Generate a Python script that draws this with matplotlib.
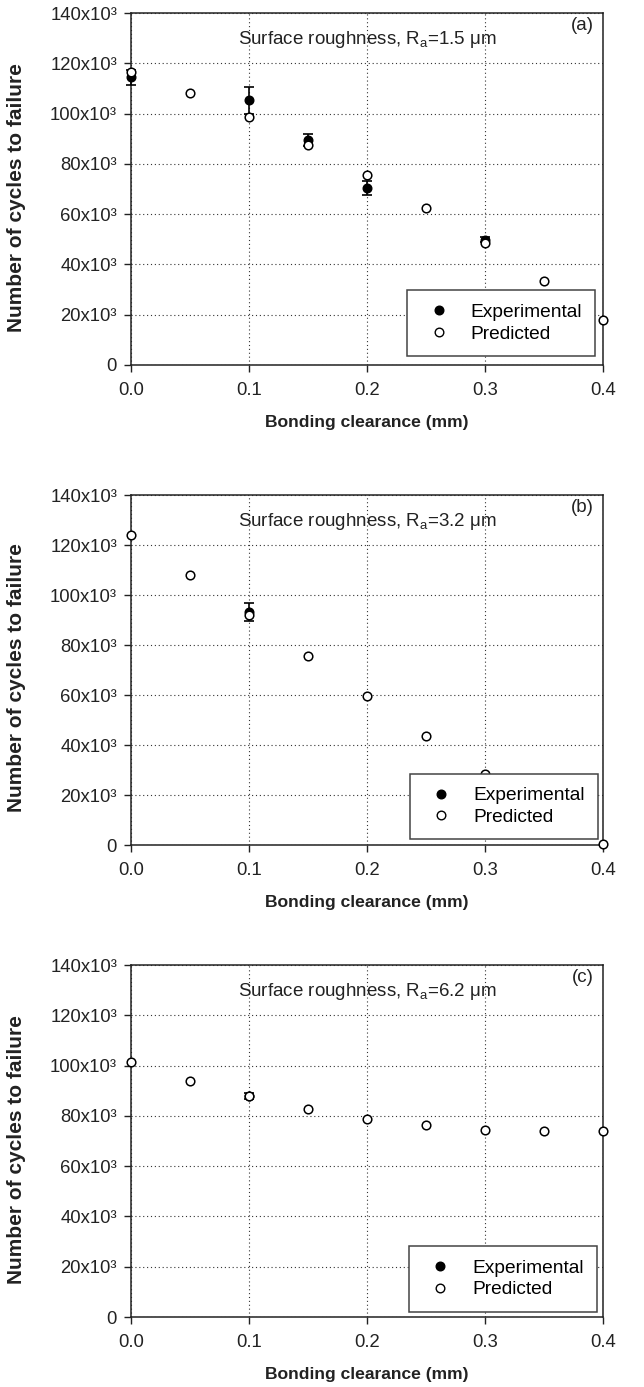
import matplotlib
matplotlib.use("Agg")
import matplotlib.pyplot as plt
from matplotlib.lines import Line2D

plt.rcParams['font.family'] = ['Liberation Sans', 'DejaVu Sans']
plt.rcParams['mathtext.fontset'] = 'custom'
plt.rcParams['mathtext.rm'] = 'Liberation Sans'
plt.rcParams['mathtext.it'] = 'Liberation Sans:italic'
plt.rcParams['mathtext.bf'] = 'Liberation Sans:bold'

# ---------------- data (cycles to failure, thousands) ----------------
clearance_pred = [0.0, 0.05, 0.10, 0.15, 0.20, 0.25, 0.30, 0.35, 0.40]

pred_a = [116.5, 108.1, 98.6, 87.6, 75.6, 62.6, 48.4, 33.4, 17.9]
exp_x_a = [0.0, 0.10, 0.15, 0.20, 0.30]
exp_a = [114.5, 105.2, 89.6, 70.3, 49.8]
err_a = [3.0, 5.2, 2.4, 2.7, 1.0]

pred_b = [124.1, 108.0, 92.0, 75.7, 59.5, 43.7, 28.6, 14.5, 0.5]
exp_x_b = [0.10]
exp_b = [93.2]
err_b = [3.6]

pred_c = [101.6, 94.0, 87.9, 82.8, 78.9, 76.3, 74.5, 73.9, 74.0]
exp_x_c = [0.10]
exp_c = [87.9]
err_c = [1.2]

roughness = ['1.5', '3.2', '6.2']
panel_tags = ['(a)', '(b)', '(c)']
yticks_k = [0, 20, 40, 60, 80, 100, 120, 140]
ytick_labels = ['0'] + [f'{v}x10³' for v in yticks_k[1:]]
xticks = [0.0, 0.1, 0.2, 0.3, 0.4]
xtick_labels = ['0.0', '0.1', '0.2', '0.3', '0.4']

panels = [
    (pred_a, exp_x_a, exp_a, err_a),
    (pred_b, exp_x_b, exp_b, err_b),
    (pred_c, exp_x_c, exp_c, err_c),
]

W, H = 644, 1387
fig = plt.figure(figsize=(W / 100, H / 100), dpi=100)

left = 131 / W
width = (603 - 131) / W
tops = [13, 495, 965]
bottoms = [365, 845, 1317]
legend_anchors = [(0.984, 0.025), (0.989, 0.016), (0.988, 0.015)]
LEG_FS = 13.8

for i, (pred, ex, ey, ee) in enumerate(panels):
    b = 1 - bottoms[i] / H
    h = (bottoms[i] - tops[i]) / H
    ax = fig.add_axes([left, b, width, h])
    ax.set_xlim(0, 0.4)
    ax.set_ylim(0, 140)
    ax.set_xticks(xticks)
    ax.set_xticklabels(xtick_labels)
    ax.set_yticks(yticks_k)
    ax.set_yticklabels(ytick_labels)
    ax.tick_params(axis='both', labelsize=13.3, direction='out', length=5,
                   width=1, colors='#222222', pad=5)
    ax.tick_params(axis='x', pad=7)
    for s in ax.spines.values():
        s.set_linewidth(1.1)
        s.set_color('#222222')
    ax.grid(True, linestyle=(0, (1, 2.5)), color='#333333', linewidth=0.8)
    ax.set_axisbelow(True)

    ax.errorbar(ex, ey, yerr=ee, fmt='o', color='black', markersize=6.2,
                capsize=3.8, elinewidth=1.2, capthick=1.2, zorder=3,
                clip_on=False)
    ax.plot(clearance_pred, pred, linestyle='none', marker='o',
            markerfacecolor='white', markeredgecolor='black',
            markeredgewidth=1.1, markersize=6.2, zorder=4, clip_on=False)

    ax.text(0.5, 0.925, r'Surface roughness, R$_{\mathrm{a}}$=' + roughness[i] + ' μm',
            transform=ax.transAxes, ha='center', va='center', fontsize=13.5,
            color='#222222')
    ax.text(0.98, 0.99, panel_tags[i], transform=ax.transAxes, ha='right',
            va='top', fontsize=13.5, color='#222222')

    ax.set_ylabel('Number of cycles to failure', fontsize=15, fontweight='bold',
                  color='#222222')
    ax.yaxis.set_label_coords(-0.222, 0.477)
    ax.set_xlabel('Bonding clearance (mm)', fontsize=12.6, fontweight='bold',
                  color='#222222', labelpad=12)

    handles = [
        Line2D([], [], linestyle='none', marker='o', color='black',
               markersize=6.2),
        Line2D([], [], linestyle='none', marker='o', markerfacecolor='white',
               markeredgecolor='black', markeredgewidth=1.0, markersize=6.2),
    ]
    leg = ax.legend(handles, ['Experimental', 'Predicted'], loc='lower right',
                    bbox_to_anchor=legend_anchors[i], fontsize=LEG_FS,
                    frameon=True, fancybox=False, edgecolor='#444444',
                    framealpha=1, handletextpad=0.75, borderpad=0.7,
                    labelspacing=0.22, handlelength=1.84, borderaxespad=0)
    leg.get_frame().set_linewidth(1.1)
    leg.set_zorder(10)

fig.savefig('out.png', dpi=100)
